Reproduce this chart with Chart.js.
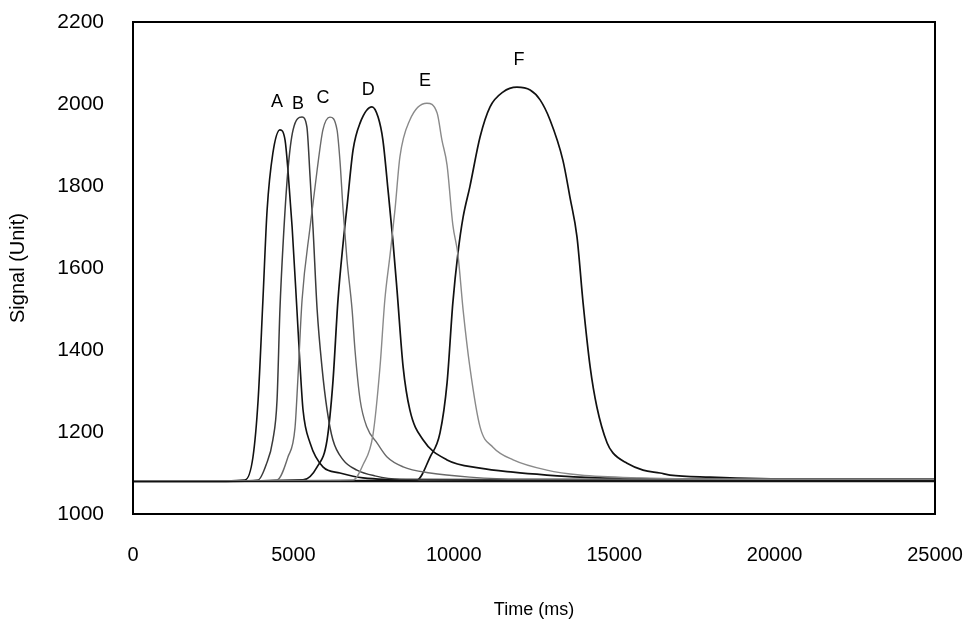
<!DOCTYPE html>
<html>
<head>
<meta charset="utf-8">
<script src="https://cdn.jsdelivr.net/npm/chart.js@4.4.1/dist/chart.umd.min.js"></script>
<style>
  html, body { margin: 0; padding: 0; background: #fff; }
  #wrap { width: 973px; height: 629px; }
</style>
</head>
<body>
<div id="wrap"><canvas id="signalChart" width="973" height="629"></canvas></div>
<script>
// Peak runs A..F, time in ms and signal in units
const timeA = [0, 2090, 3490, 3740, 3900, 4050, 4180, 4360, 4580, 4740, 4830, 4960, 5110, 5210, 5300, 5520, 5920, 6450, 7170, 8950, 15000, 25000];
const signalA = [1080, 1080, 1083, 1139, 1278, 1522, 1741, 1880, 1937, 1912, 1839, 1700, 1498, 1359, 1254, 1173, 1115, 1100, 1088, 1083, 1082, 1082];

const timeB = [0, 2090, 3900, 4150, 4360, 4490, 4580, 4680, 4830, 4990, 5270, 5420, 5520, 5610, 5740, 5890, 6050, 6230, 6550, 6980, 7540, 8320, 12000, 25000];
const signalB = [1079, 1079, 1083, 1120, 1181, 1278, 1498, 1661, 1839, 1937, 1968, 1944, 1822, 1700, 1498, 1359, 1254, 1181, 1132, 1107, 1093, 1085, 1084, 1084];

const timeC = [0, 2090, 4490, 4830, 5050, 5140, 5270, 5520, 5740, 5920, 6140, 6360, 6450, 6550, 6670, 6830, 6920, 7080, 7290, 7610, 7920, 8420, 9260, 10500, 12060, 25000];
const signalC = [1079, 1079, 1083, 1139, 1210, 1330, 1522, 1700, 1839, 1937, 1968, 1937, 1863, 1741, 1620, 1498, 1400, 1278, 1212, 1173, 1139, 1115, 1100, 1090, 1085, 1085];

const timeD = [0, 2090, 5300, 5740, 6050, 6230, 6390, 6550, 6670, 6860, 7080, 7450, 7640, 7790, 7950, 8100, 8230, 8420, 8630, 9040, 9790, 10820, 11850, 12900, 13930, 17670, 25000];
const signalD = [1080, 1080, 1083, 1115, 1181, 1320, 1522, 1661, 1749, 1888, 1954, 1993, 1968, 1912, 1790, 1668, 1546, 1359, 1254, 1181, 1132, 1112, 1102, 1095, 1090, 1085, 1085];

const timeE = [0, 2090, 6860, 7170, 7480, 7700, 7850, 8010, 8170, 8320, 8630, 9160, 9480, 9630, 9790, 9970, 10130, 10290, 10500, 10820, 11220, 11850, 12900, 13930, 15800, 19230, 25000];
const signalE = [1081, 1081, 1083, 1120, 1193, 1359, 1522, 1630, 1745, 1871, 1961, 2002, 1978, 1912, 1851, 1705, 1632, 1498, 1359, 1212, 1163, 1132, 1107, 1095, 1088, 1085, 1085];

const timeF = [0, 2090, 8850, 9260, 9570, 9790, 9970, 10130, 10290, 10500, 10820, 11130, 11530, 11970, 12380, 12690, 13000, 13400, 13620, 13840, 14030, 14250, 14460, 14780, 14960, 15400, 15900, 16430, 16740, 17990, 20790, 25000];
const signalF = [1080, 1080, 1083, 1139, 1198, 1320, 1515, 1637, 1724, 1798, 1920, 1993, 2029, 2041, 2034, 2010, 1961, 1863, 1773, 1676, 1515, 1359, 1261, 1173, 1149, 1124, 1107, 1100, 1095, 1090, 1085, 1085];

// flat baseline trace running under all runs
const timeBase = [0, 25000];
const signalBase = [1079, 1079];

// peak letters and where they sit (data units)
const peakNames = ['A', 'B', 'C', 'D', 'E', 'F'];
const peakLabelTime = [4490, 5140, 5920, 7330, 9100, 12030];
const peakLabelSignal = [2005, 2000, 2015, 2034, 2056, 2107];

const xTicks = [0, 5000, 10000, 15000, 20000, 25000];
const yTicks = [1000, 1200, 1400, 1600, 1800, 2000, 2200];

const FONT = "'Liberation Sans', Arial, sans-serif";

function pts(ts, vs) {
    return ts.map((t, i) => ({ x: t, y: vs[i] }));
}

function trace(label, ts, vs, color, width) {
    return {
        label: label,
        data: pts(ts, vs),
        borderColor: color,
        borderWidth: width,
        pointRadius: 0,
        fill: false,
        cubicInterpolationMode: 'monotone'
    };
}

// full black frame round the plot area
const frameBox = {
    id: 'frameBox',
    afterDatasetsDraw(chart) {
        const { ctx, chartArea: a } = chart;
        ctx.save();
        ctx.strokeStyle = '#000';
        ctx.lineWidth = 2;
        ctx.strokeRect(a.left, a.top, a.right - a.left, a.bottom - a.top);
        ctx.restore();
    }
};

// letters over the peaks
const peakLetters = {
    id: 'peakLetters',
    afterDatasetsDraw(chart) {
        const { ctx, scales } = chart;
        ctx.save();
        ctx.fillStyle = '#000';
        ctx.font = '18px ' + FONT;
        ctx.textAlign = 'center';
        ctx.textBaseline = 'middle';
        peakNames.forEach((name, i) => {
            ctx.fillText(name,
                scales.x.getPixelForValue(peakLabelTime[i]),
                scales.y.getPixelForValue(peakLabelSignal[i]));
        });
        ctx.restore();
    }
};

const ctx = document.getElementById('signalChart').getContext('2d');

new Chart(ctx, {
    type: 'line',
    data: {
        datasets: [
            trace('Baseline', timeBase, signalBase, '#111', 1.5),
            trace('E', timeE, signalE, '#8a8a8a', 1.4),
            trace('C', timeC, signalC, '#6a6a6a', 1.4),
            trace('B', timeB, signalB, '#3a3a3a', 1.5),
            trace('A', timeA, signalA, '#111', 1.6),
            trace('D', timeD, signalD, '#111', 1.7),
            trace('F', timeF, signalF, '#111', 1.7)
        ]
    },
    options: {
        responsive: false,
        animation: false,
        devicePixelRatio: 1,
        layout: { padding: { top: 22, right: 38, bottom: 0, left: 0 } },
        plugins: {
            legend: { display: false },
            tooltip: { enabled: false }
        },
        scales: {
            x: {
                type: 'linear',
                min: 0,
                max: 25000,
                afterBuildTicks: (s) => { s.ticks = xTicks.map(v => ({ value: v })); },
                afterFit: (s) => {
                    s.height = 115;
                    s.paddingLeft = 0;
                    s.paddingRight = 0;
                },
                grid: { display: false, drawTicks: false },
                border: { display: false },
                ticks: {
                    padding: 29,
                    color: '#000',
                    maxRotation: 0,
                    font: { family: FONT, size: 20 },
                    callback: (v) => String(v)
                },
                title: {
                    display: true,
                    text: 'Time (ms)',
                    color: '#000',
                    font: { family: FONT, size: 18 },
                    padding: { top: 0, bottom: 8 }
                }
            },
            y: {
                type: 'linear',
                min: 1000,
                max: 2200,
                afterBuildTicks: (s) => { s.ticks = yTicks.map(v => ({ value: v })); },
                afterFit: (s) => {
                    s.width = 133;
                    s.paddingTop = 0;
                    s.paddingBottom = 0;
                },
                grid: { display: false, drawTicks: false },
                border: { display: false },
                ticks: {
                    padding: 29,
                    color: '#000',
                    font: { family: FONT, size: 21 },
                    callback: (v) => String(v)
                },
                title: {
                    display: true,
                    text: 'Signal (Unit)',
                    color: '#000',
                    font: { family: FONT, size: 20 },
                    padding: { top: 6, bottom: 0 }
                }
            }
        }
    },
    plugins: [frameBox, peakLetters]
});
</script>
</body>
</html>
